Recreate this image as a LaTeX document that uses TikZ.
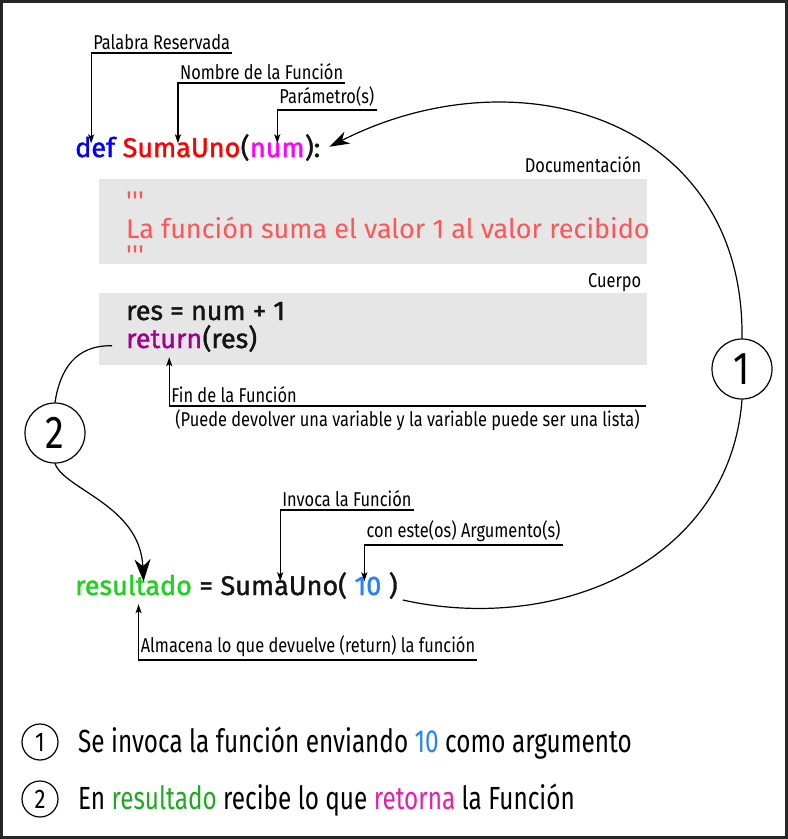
\documentclass[tikz,border=0pt]{standalone}
\usepackage{fontspec}
\setmainfont{Fira Sans}
\newfontfamily\codefont{Fira Sans}[FakeBold=1.4]
\newfontfamily\docfont{Fira Sans}
\newfontfamily\notefont{Fira Sans}[FakeStretch=0.82]
\newfontfamily\legfont{Fira Sans}[FakeStretch=0.76]
\definecolor{kwblue}{RGB}{0, 0, 255}
\definecolor{fnred}{RGB}{255, 0, 0}
\definecolor{parmag}{RGB}{255, 0, 255}
\definecolor{docred}{RGB}{255, 85, 85}
\definecolor{retpurple}{RGB}{160, 0, 140}
\definecolor{resgreen}{RGB}{30, 210, 30}
\definecolor{argblue}{RGB}{40, 130, 255}
\definecolor{boxgray}{RGB}{230, 230, 230}
\definecolor{codeblack}{RGB}{20, 20, 20}
\definecolor{leggreen}{RGB}{30, 170, 30}
\definecolor{legpink}{RGB}{230, 30, 170}
\usetikzlibrary{arrows.meta, positioning}

\begin{document}
\begin{tikzpicture}[x=1pt, y=-1pt,
  code/.style={font=\codefont\fontsize{27}{32}\selectfont, inner xsep=0pt, inner ysep=6pt, text height=0.75em, text depth=0.3em, anchor=base west},
  doctext/.style={font=\docfont\fontsize{27}{32}\selectfont, text=docred, inner sep=0pt, anchor=base west},
  note/.style={font=\notefont\fontsize{20}{24}\selectfont, inner xsep=2pt, inner ysep=3pt, anchor=south west},
  legend/.style={font=\legfont\fontsize{32}{36}\selectfont, inner sep=0pt, anchor=base west},
  panel/.style={fill=boxgray, anchor=north west, inner sep=0pt},
  ptr/.style={line width=1.3pt, -{Stealth[length=9pt, width=6pt, inset=2pt]}},
  flow/.style={line width=1.2pt},
  bigc/.style={draw, circle, line width=1.2pt, minimum size=60pt, inner sep=0pt, font=\notefont\fontsize{46}{46}\selectfont},
  smallc/.style={draw, circle, line width=1.2pt, minimum size=36pt, inner sep=0pt, font=\notefont\fontsize{27}{27}\selectfont}]
  \useasboundingbox (0,0) rectangle (788,839);
  % Frame
  \draw[line width=3pt, draw=black!85] (1.5,1.5) rectangle (786.5,837.5);

  % Function header
  \node[code, text=kwblue] (kwdef) at (75,157) {def};
  \node[code, text=fnred] (fname) at (kwdef.base east) {\ SumaUno};
  \node[code, text=codeblack] (lpar) at (fname.base east) {(};
  \node[code, text=parmag] (param) at (lpar.base east) {num};
  \node[code, text=codeblack] (rpar) at (param.base east) {):};

  % Header labels
  \node[note] (lblkw) at ([xshift=-4]kwdef.north |- 0,53) {Palabra Reservada};
  \node[note] (lblname) at (fname.north |- 0,83) {Nombre de la Función};
  \node[note] (lblparam) at (param.north |- 0,110) {Parámetro(s)};
  \draw[ptr] (lblkw.south east) -| (lblkw.south west |- kwdef.north);
  \draw[ptr] (lblname.south east) -| (fname.north);
  \draw[ptr] (lblparam.south east) -| (param.north);

  % Documentation
  \node[panel, minimum width=548pt, minimum height=85pt] (docpanel) at (99,179) {};
  \node[note, anchor=base east] (lbldoc) at ([shift={(-4,-7)}]docpanel.north east) {Documentación};
  \node[doctext] (docq1) at (126,210) {\textquotesingle\textquotesingle\textquotesingle};
  \node[doctext] (doctxt) at (126,238) {La función suma el valor 1 al valor recibido};
  \node[doctext] (docq2) at (126,264) {\textquotesingle\textquotesingle\textquotesingle};

  % Body
  \node[panel, minimum width=548pt, minimum height=72pt] (bodypanel) at (99,293) {};
  \node[note, anchor=base east] (lblbody) at ([shift={(-4,-6)}]bodypanel.north east) {Cuerpo};
  \node[code, text=codeblack] (stmt) at (126,320) {res = num + 1};
  \node[code, text=retpurple] (ret) at (126,348) {return};
  \node[code, text=codeblack] (retarg) at (ret.base east) {(res)};

  % End of function
  \node[note, anchor=north west, inner xsep=6pt] (lblfinsub) at ([xshift=5]ret.south |- 0,406) {(Puede devolver una variable y la variable puede ser una lista)};
  \node[note] (lblfin) at (lblfinsub.north west) {Fin de la Función};
  \draw[ptr] (lblfinsub.north east) -| (lblfinsub.north west |- ret.south);

  % Call
  \node[code, text=resgreen] (res) at (75,595) {resultado};
  \node[code, text=codeblack] (eq) at (res.base east) {\ =};
  \node[code, text=codeblack] (call) at (eq.base east) {\ SumaUno(};
  \node[code, text=argblue] (arg) at (call.base east) {\ 10};
  \node[code, text=codeblack] (rpar2) at (arg.base east) {\ )};

  % Call labels
  \node[note] (lblcall) at (call.north |- 0,510) {Invoca la Función};
  \node[note] (lblarg) at (arg.north |- 0,545) {con este(os) Argumento(s)};
  \node[note] (lblstore) at ([xshift=5]res.south |- 0,660) {Almacena lo que devuelve (return) la función};
  \draw[ptr] (lblcall.south east) -| (call.north);
  \draw[ptr] (lblarg.south east) -| (arg.north);
  \draw[ptr] (lblstore.south east) -| (lblstore.south west |- res.south);

  % Step 1
  \node[bigc] (c1) at (742,369) {1};
  \draw[flow] ([shift={(5,5)}]rpar2.base east) .. controls (560,635) and (730,560) .. (c1.south);
  \draw[flow, -{Stealth[length=20pt, width=13pt, inset=6pt]}] (c1.north) .. controls (745,120) and (520,50) .. ([shift={(9,-8)}]rpar.east);

  % Step 2
  \node[bigc] (c2) at (55,433) {2};
  \draw[flow] ([xshift=-14]ret.west) .. controls (75,345) and (60,370) .. (c2.north);
  \draw[flow, -{Stealth[length=22pt, width=16pt, inset=7pt]}] (c2.south) .. controls (65,490) and (140,505) .. ([xshift=10]res.north);

  % Legend
  \node[smallc] (leg1) at (40,742) {1};
  \node[legend] (legtxt1) at (78,752) {Se invoca la función enviando \textcolor{argblue}{10} como argumento};
  \node[smallc] (leg2) at (40,799) {2};
  \node[legend] (legtxt2) at (78,809) {En \textcolor{leggreen}{resultado} recibe lo que \textcolor{legpink}{retorna} la Función};
\end{tikzpicture}
\end{document}
